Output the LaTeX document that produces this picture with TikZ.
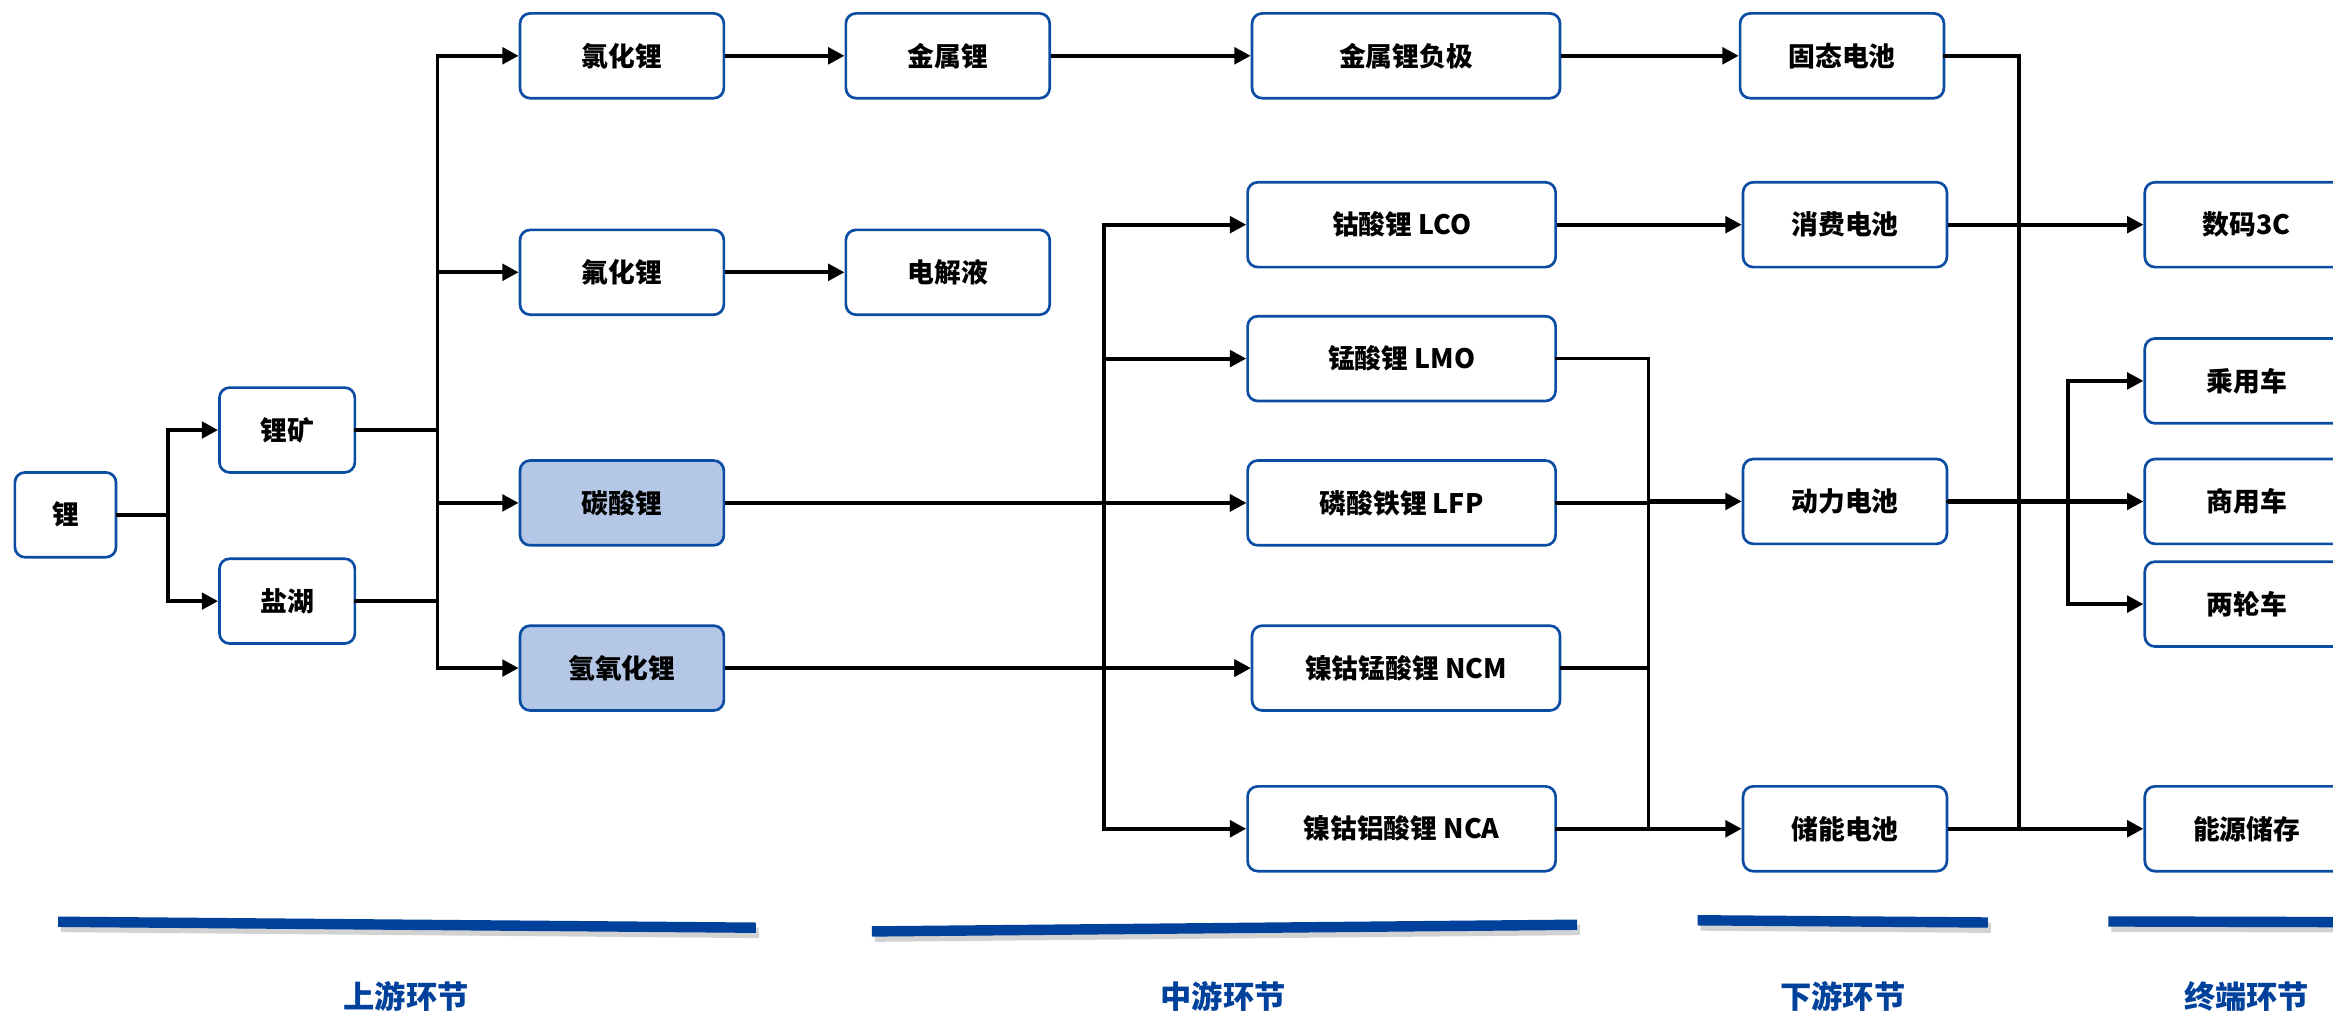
\documentclass[tikz,border=0pt]{standalone}
\usepackage{fontspec}
\setmainfont{Noto Sans CJK SC}
\usepackage{tikz}
\usetikzlibrary{
    arrows.meta,
    calc,
    positioning
}
\definecolor{boxblue}{HTML}{0B4DA2}
\definecolor{boxfill}{HTML}{B4C7E7}
\definecolor{barblue}{HTML}{00419C}

\begin{document}
\begin{tikzpicture}[x=0.5pt, y=-0.5pt,
        box/.style={draw=boxblue, line width=0.9pt, rounded corners=3.4pt, fill=white,
            minimum width=68.5pt, minimum height=28.5pt, inner sep=0pt,
            font=\bfseries\fontsize{9}{9}\selectfont},
        widebox/.style={box, minimum width=103.5pt},
        hl/.style={fill=boxfill},
        link/.style={line width=1.2pt, line cap=rect},
        arrow/.style={line width=1.4pt, -{Triangle[length=5.5pt, width=5.5pt]}},
        bar/.style={line width=3.5pt, draw=barblue},
        barshadow/.style={line width=3.5pt, draw=black!35, opacity=0.5},
        stage/.style={text=barblue, font=\bfseries\fontsize{10.5}{10.5}\selectfont}
    ]
                        \useasboundingbox (0,0) rectangle (1568,682);
                        \clip (0,0) rectangle (1568,682);

                        \node[box, minimum width=34pt] (li) at (44,346) {锂};
                        \node[box, minimum width=45.5pt] (ore) at (193,289) {锂矿};
                        \node[box, minimum width=45.5pt] (lake) at (193,404) {盐湖};

                        \node[box] (licl) at (418,37.5) {氯化锂};
                        \node[box] (lif) at (418,183) {氟化锂};
                        \node[box, hl] (tan) at (418,338) {碳酸锂};
                        \node[box, hl] (lioh) at (418,449) {氢氧化锂};

                        \node[box] (metal) at (637,37.5) {金属锂};
                        \node[box] (elec) at (637,183) {电解液};

                        \node[widebox] (anode) at (945,37.5) {金属锂负极};
                        \node[widebox] (lco) at (942,151) {钴酸锂 LCO};
                        \node[widebox] (lmo) at (942,241) {锰酸锂 LMO};
                        \node[widebox] (lfp) at (942,338) {磷酸铁锂 LFP};
                        \node[widebox] (ncm) at (945,449) {镍钴锰酸锂 NCM};
                        \node[widebox] (nca) at (942,557) {镍钴铝酸锂 NCA};

                        \node[box] (solid) at (1238,37.5) {固态电池};
                        \node[box] (consumer) at (1240,151) {消费电池};
                        \node[box] (power) at (1240,337) {动力电池};
                        \node[box] (storage) at (1240,557) {储能电池};

                        \node[box] (digital) at (1510,151) {数码3C};
                        \node[box] (car) at (1510,256) {乘用车};
                        \node[box] (truck) at (1510,337) {商用车};
                        \node[box] (bike) at (1510,406) {两轮车};
                        \node[box] (ess) at (1510,557) {能源储存};

                        \coordinate (busA) at (113,0);
                        \coordinate (busB) at (294,0);
                        \coordinate (busM) at (742,0);
                        \coordinate (busC) at (1108,0);
                        \coordinate (busD) at (1357,0);
                        \coordinate (busE) at (1390,0);

                        \draw[link] (li.east) -- (busA |- li.east);
                        \draw[link] (busA |- ore.west) -- (busA |- lake.west);
                        \foreach \n in {ore, lake} {
                            \draw[arrow] (busA |- \n.west) -- (\n.west);
                            \draw[link] (\n.east) -- (busB |- \n.east);
                        }

                        \draw[link] (busB |- licl.west) -- (busB |- lioh.west);
                        \foreach \n in {licl, lif, tan, lioh} {
                            \draw[arrow] (busB |- \n.west) -- (\n.west);
                        }

                        \draw[arrow] (licl) -- (metal);
                        \draw[arrow] (metal) -- (anode);
                        \draw[arrow] (anode) -- (solid);
                        \draw[arrow] (lif) -- (elec);

                        \draw[link] (busM |- lco.west) -- (busM |- nca.west);
                        \draw[arrow] (tan.east) -- (lfp.west);
                        \draw[arrow] (lioh.east) -- (ncm.west);
                        \foreach \n in {lco, lmo, lfp, ncm, nca} {
                            \draw[arrow] (busM |- \n.west) -- (\n.west);
                        }

                        \draw[arrow] (lco) -- (consumer);
                        \foreach \n in {lmo, lfp, ncm, nca} {
                            \draw[link] (\n.east) -- (busC |- \n.east);
                        }
                        \draw[link] (busC |- lmo.east) -- (busC |- storage.west);
                        \foreach \n in {power, storage} {
                            \draw[arrow] (busC |- \n.west) -- (\n.west);
                        }

                        \draw[link] (solid.east) -| (busD |- storage.east);
                        \draw[arrow] (consumer) -- (digital);
                        \draw[arrow] (storage) -- (ess);

                        \draw[link] (power.east) -- (busE |- power.east);
                        \draw[link] (busE |- car.west) -- (busE |- bike.west);
                        \draw[arrow] (power) -- (truck);
                        \foreach \n in {car, bike} {
                            \draw[arrow] (busE |- \n.west) -- (\n.west);
                        }

                        \foreach \xa/\ya/\xb/\yb in {39/619.5/508/623.5, 586/626/1060/621.5, 1141/618.5/1336/620, 1417/619.3/1600/619.8} {
                            \draw[barshadow] (\xa+2,\ya+3.5) -- (\xb+2,\yb+3.5);
                            \draw[bar] (\xa,\ya) -- (\xb,\yb);
                        }

                        \node[stage] (up) at (273,670) {上游环节};
                        \node[stage] (mid) at (822,670) {中游环节};
                        \node[stage] (down) at (1238.5,670) {下游环节};
                        \node[stage] (end) at (1510,670) {终端环节};
                    \end{tikzpicture}
\end{document}
